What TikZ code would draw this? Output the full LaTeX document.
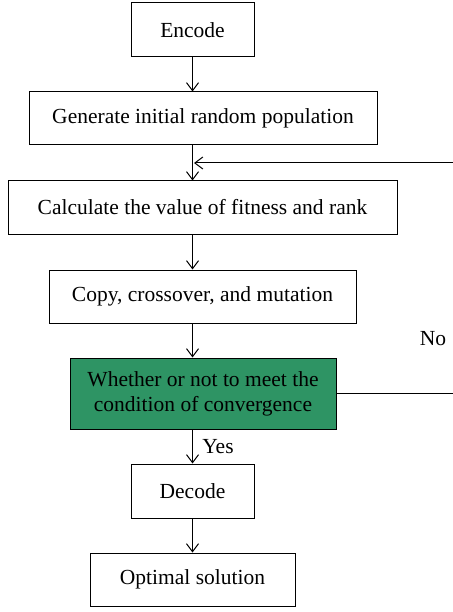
\documentclass[tikz,border=0pt]{standalone}
\usepackage{fontspec}
\setmainfont{Liberation Serif}
\usetikzlibrary{arrows.meta}
\definecolor{cgreen}{HTML}{2E9464}

\begin{document}
\begin{tikzpicture}[x=1pt,y=-1pt,>={Straight Barb[length=8pt,width=12pt]},
   b/.style={draw, line width=1pt, inner sep=0pt, align=center, font=\fontsize{21.5}{25}\selectfont},
   lbl/.style={font=\fontsize{21.5}{25}\selectfont}]
  \useasboundingbox (0,0) rectangle (452,612);
  % boxes
  \node[b, minimum width=123, minimum height=54] (enc) at (192.5,30) {Encode};
  \node[b, minimum width=348, minimum height=53] (gen) at (203,118.5) {Generate initial random population};
  \node[b, minimum width=389, minimum height=53] (calc) at (202.5,207.5) {Calculate the value of fitness and rank};
  \node[b, minimum width=307, minimum height=53] (copy) at (202.5,296.5) {Copy, crossover, and mutation};
  \node[b, fill=cgreen, minimum width=266, minimum height=71] (cond) at (203,393.5)
     {Whether or not to meet the\\condition of convergence};
  \node[b, minimum width=123, minimum height=54] (dec) at (192.5,491) {Decode};
  \node[b, minimum width=205, minimum height=53] (opt) at (192.5,579.5) {Optimal solution};
  % main flow
  \coordinate (mrg) at (194,163);
  \draw[->, line width=1pt] (enc) -- (enc |- gen.north);
  \draw[->, line width=1pt] (enc |- gen.south) -- (enc |- calc.north);
  \draw[->, line width=1pt] (enc |- calc.south) -- (enc |- copy.north);
  \draw[->, line width=1pt] (enc |- copy.south) -- (enc |- cond.north);
  \draw[->, line width=1pt] (enc |- cond.south) -- (dec) node[lbl, midway, right, xshift=6pt]{Yes};
  \draw[->, line width=1pt] (dec) -- (enc |- opt.north);
  % loop back
  \coordinate (rt) at (460,393.5);
  \draw[->, line width=1pt] (cond.east) -- (rt) -- (rt |- mrg) -- (mrg);
  \node[lbl] (no) at (433,339) {No};
\end{tikzpicture}
\end{document}
